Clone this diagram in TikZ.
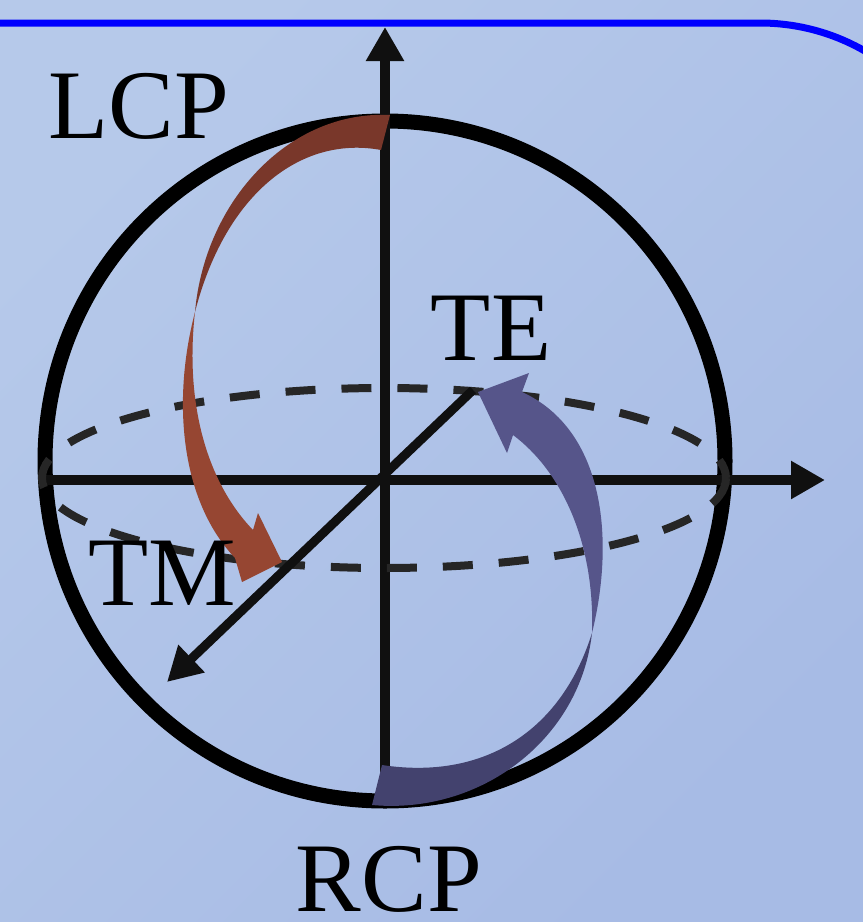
\documentclass[tikz,border=0pt]{standalone}
\usepackage{fontspec}
\setmainfont{Liberation Serif}
\usetikzlibrary{arrows.meta}
\definecolor{skylight}{RGB}{182,201,234}
\definecolor{skydeep}{RGB}{167,187,229}
\definecolor{edge}{RGB}{0,0,255}
\definecolor{rust}{RGB}{121,55,42}
\definecolor{rustpale}{RGB}{150,70,50}
\definecolor{dusk}{RGB}{67,66,110}
\definecolor{duskpale}{RGB}{86,85,138}
\definecolor{ink}{RGB}{16,16,16}
\definecolor{graphite}{RGB}{38,38,38}
\tikzset{
  >={Triangle[length=6.8mm,width=7.2mm]},
  axis/.style={draw=ink,line width=2.1mm,->},
  rim/.style={draw=black,line width=3mm},
  equator/.style={draw=graphite,line width=1.6mm,dash pattern=on 6mm off 5.2mm},
  pol/.style={font=\fontsize{56}{60}\selectfont,inner sep=0pt,anchor=base},
  ribbon/.style={fill=#1,draw=none},
  ribbon/.default=rust,
}

\begin{document}
\begin{tikzpicture}[x=0.2mm,y=-0.2mm]
  \useasboundingbox (0,0) rectangle (863,922);
  \clip (0,0) rectangle (863,922);
  \shade[top color=skylight,bottom color=skydeep,shading angle=45] (0,0) rectangle (863,922);
  % frame of the slide
  \draw[edge,line width=1.4mm] (-10,23) -- (760,23) .. controls (876,23) and (970,117) .. (970,233);

  \coordinate (O) at (385,480);
  \coordinate (C) at (385,461);
  \coordinate (E) at (384,478);
  \coordinate (xl) at (43,480);
  \coordinate (xr) at (825,480);
  \coordinate (zb) at (385,790);
  \coordinate (zt) at (385,27);
  \coordinate (dfar) at (473,390);
  \coordinate (dnear) at (167,682);
  \coordinate (redtwist) at (195,312);
  \coordinate (bluetwist) at (592,633);

  \draw[rim] (C) circle (340);
  \draw[axis] (xl) -- (xr);
  \draw[axis] (zb) -- (zt);
  \draw[equator] (E) ellipse [x radius=342,y radius=90];

  % LCP -> TM
  \fill[ribbon=rust] (redtwist) .. controls (205,200) and (290,110) .. (390,115)
    -- (381,150) .. controls (300,135) and (225,195) .. (redtwist) -- cycle;
  \fill[ribbon=rustpale] (redtwist) .. controls (172,400) and (180,500) .. (235,558)
    -- (242,582) -- (282,562) -- (258,513) -- (253,530)
    .. controls (205,480) and (185,400) .. (redtwist) -- cycle;

  \draw[axis,line width=1.8mm] (dfar) -- (dnear);

  % RCP -> TE
  \fill[ribbon=duskpale] (bluetwist) .. controls (595,540) and (560,470) .. (513,435)
    -- (507,453) -- (478,392) -- (529,373) -- (522,392)
    .. controls (605,430) and (615,540) .. (bluetwist) -- cycle;
  \fill[ribbon=dusk] (bluetwist) .. controls (580,740) and (480,815) .. (372,805)
    -- (382,765) .. controls (480,780) and (560,735) .. (bluetwist) -- cycle;

  \node[pol] (lcp) at (139,138) {LCP};
  \node[pol] (te) at (491,360) {TE};
  \node[pol] (tm) at (162,605) {TM};
  \node[pol] (rcp) at (389,911) {RCP};
\end{tikzpicture}
\end{document}
